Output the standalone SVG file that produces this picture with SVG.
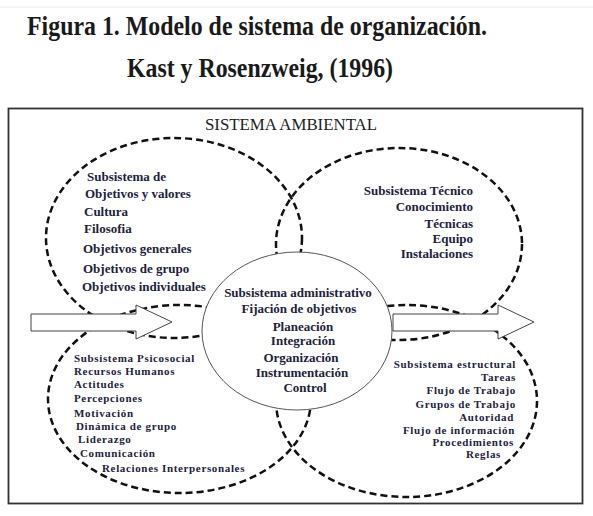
<svg xmlns="http://www.w3.org/2000/svg" width="593" height="516" viewBox="0 0 593 516">
<style>
.title{font-family:"Liberation Serif","Times New Roman",serif;font-weight:bold;font-size:27px;fill:#1a1a1a}
.env{font-family:"Liberation Serif","Times New Roman",serif;font-size:16px;fill:#222}
.t{font-family:"Liberation Serif","Times New Roman",serif;font-weight:bold;font-size:13px;fill:#22223c}
.s{font-size:11px;letter-spacing:0.65px}
.dash{fill:none;stroke:#111;stroke-width:2.5;stroke-dasharray:7 4}
.arrow{fill:#fff;stroke:#444;stroke-width:1}
.core{fill:#fff;stroke:#555;stroke-width:1}
.e{text-anchor:end}
.m{text-anchor:middle}
</style>
<rect width="593" height="516" fill="#fff"/>
<line x1="0" y1="7" x2="593" y2="7" stroke="#ececec" stroke-width="1"/>
<g id="title">
<text class="title" x="27" y="35" textLength="460" lengthAdjust="spacingAndGlyphs">Figura 1. Modelo de sistema de organización.</text>
<text class="title" x="127" y="77" textLength="266" lengthAdjust="spacingAndGlyphs">Kast y Rosenzweig, (1996)</text>
</g>
<g id="sistema-ambiental">
<rect x="8.5" y="108.5" width="574" height="395" fill="none" stroke="#333" stroke-width="1.8"/>
<text class="env" x="205" y="130" textLength="172" lengthAdjust="spacingAndGlyphs">SISTEMA AMBIENTAL</text>
</g>
<g id="subsistema-objetivos">
<ellipse class="dash" cx="174" cy="238" rx="128" ry="100"/>
<text class="t" x="87" y="181">Subsistema de</text>
<text class="t" x="85" y="198">Objetivos y valores</text>
<text class="t" x="84" y="216">Cultura</text>
<text class="t" x="84" y="233">Filosofia</text>
<text class="t" x="83" y="253">Objetivos generales</text>
<text class="t" x="83" y="273">Objetivos de grupo</text>
<text class="t" x="82" y="291">Objetivos individuales</text>
</g>
<g id="subsistema-tecnico">
<ellipse class="dash" cx="399" cy="244" rx="123" ry="96"/>
<text class="t e" x="473" y="195">Subsistema Técnico</text>
<text class="t e" x="473" y="211">Conocimiento</text>
<text class="t e" x="473" y="228">Técnicas</text>
<text class="t e" x="473" y="243">Equipo</text>
<text class="t e" x="473" y="258">Instalaciones</text>
</g>
<g id="subsistema-psicosocial">
<ellipse class="dash" cx="179.5" cy="399" rx="131.5" ry="94"/>
<text class="t s" x="74" y="362">Subsistema Psicosocial</text>
<text class="t s" x="74" y="375">Recursos Humanos</text>
<text class="t s" x="74" y="388">Actitudes</text>
<text class="t s" x="74" y="402">Percepciones</text>
<text class="t s" x="74" y="417">Motivación</text>
<text class="t s" x="76" y="430">Dinámica de grupo</text>
<text class="t s" x="78" y="443">Liderazgo</text>
<text class="t s" x="80" y="457">Comunicación</text>
<text class="t s" x="102" y="472">Relaciones Interpersonales</text>
</g>
<g id="subsistema-estructural">
<ellipse class="dash" cx="406.5" cy="401" rx="130.5" ry="96"/>
<text class="t s e" x="516" y="368">Subsistema estructural</text>
<text class="t s e" x="516" y="381">Tareas</text>
<text class="t s e" x="516" y="394">Flujo de Trabajo</text>
<text class="t s e" x="516" y="408">Grupos de Trabajo</text>
<text class="t s e" x="514" y="421">Autoridad</text>
<text class="t s e" x="515" y="434">Flujo de información</text>
<text class="t s e" x="514" y="446">Procedimientos</text>
<text class="t s e" x="501" y="458">Reglas</text>
</g>
<g id="connectors">
<polygon class="arrow" points="31,314 136,314 136,305 172,322 136,339 136,331 31,331"/>
<polygon class="arrow" points="393,314 498,314 498,305 534,322 498,339 498,331 393,331"/>
</g>
<g id="subsistema-administrativo">
<ellipse class="core" cx="297" cy="331" rx="95" ry="79"/>
<text class="t m" x="298" y="297">Subsistema administrativo</text>
<text class="t m" x="299" y="313">Fijación de objetivos</text>
<text class="t m" x="303" y="331">Planeación</text>
<text class="t m" x="303" y="345">Integración</text>
<text class="t m" x="301" y="362">Organización</text>
<text class="t m" x="302" y="377">Instrumentación</text>
<text class="t m" x="305" y="392">Control</text>
</g>
</svg>
